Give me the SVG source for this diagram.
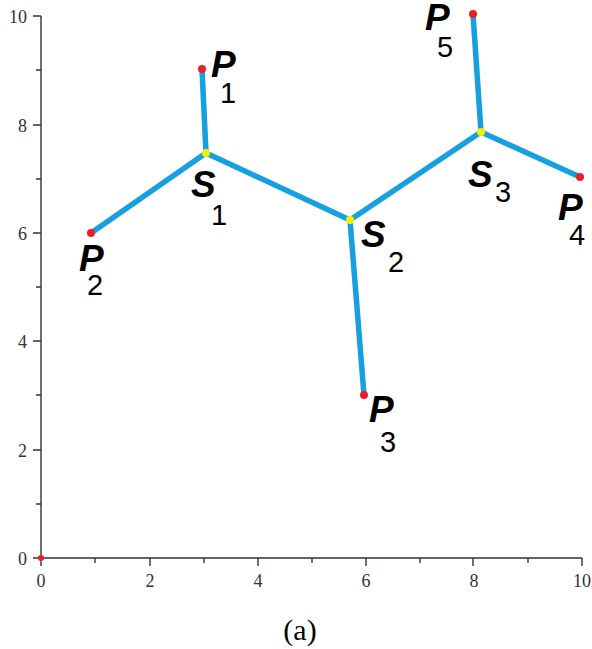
<svg xmlns="http://www.w3.org/2000/svg" width="592" height="649" viewBox="0 0 592 649">
<style>
.ax{stroke:#333;stroke-width:1.4;fill:none}
.tl{font-family:"Liberation Serif",serif;font-size:18px;fill:#333}
.edge{stroke:#17a0e0;stroke-width:5.5;stroke-linecap:butt;fill:none}
.p{fill:#e8202a}
.s{fill:#f2f200}
.L{font-family:"Liberation Sans",Arial,sans-serif;font-size:37px;font-weight:bold;font-style:italic;fill:#000}
.D{font-family:"Liberation Sans",Arial,sans-serif;font-size:29px;font-weight:normal;font-style:normal;fill:#000;text-anchor:middle}
</style>
<rect width="592" height="649" fill="#fff"/>
<g id="axes">
<path class="ax" d="M41,16V558H582"/>
<path class="ax" d="M33,16H41M36,70H41M33,125H41M36,179H41M33,233H41M36,287H41M33,341H41M36,395H41M33,450H41M36,504H41M33,558H41"/>
<path class="ax" d="M41,558V566M95,558V563M150,558V566M204,558V563M258,558V566M312,558V563M366,558V566M420,558V563M473,558V566M528,558V563M582,558V566"/>
<g class="tl" text-anchor="end">
<text x="27" y="23">10</text><text x="27" y="132">8</text><text x="27" y="240">6</text><text x="27" y="348">4</text><text x="27" y="457">2</text><text x="27" y="565">0</text>
</g>
<g class="tl" text-anchor="middle">
<text x="41" y="587">0</text><text x="150" y="587">2</text><text x="258" y="587">4</text><text x="366" y="587">6</text><text x="474" y="587">8</text><text x="582" y="587">10</text>
</g>
<circle cx="41" cy="558" r="3" class="p"/>
</g>
<g id="connectors">
<line class="edge" x1="202" y1="69" x2="206" y2="153"/>
<line class="edge" x1="91" y1="233" x2="206" y2="153"/>
<line class="edge" x1="206" y1="153" x2="350" y2="220"/>
<line class="edge" x1="350" y1="220" x2="364" y2="395"/>
<line class="edge" x1="350" y1="220" x2="481" y2="132"/>
<line class="edge" x1="473" y1="14" x2="481" y2="132"/>
<line class="edge" x1="481" y1="132" x2="580" y2="177"/>
</g>
<g id="P1"><circle cx="202" cy="69" r="4" class="p"/><text class="L"><tspan x="211" y="77">P</tspan><tspan class="D" x="228" y="103">1</tspan></text></g>
<g id="P2"><circle cx="91" cy="233" r="4" class="p"/><text class="L"><tspan x="79" y="271">P</tspan><tspan class="D" x="95" y="295">2</tspan></text></g>
<g id="P3"><circle cx="364" cy="395" r="4" class="p"/><text class="L"><tspan x="369" y="422">P</tspan><tspan class="D" x="388" y="452">3</tspan></text></g>
<g id="P4"><circle cx="580" cy="177" r="4" class="p"/><text class="L"><tspan x="558" y="220">P</tspan><tspan class="D" x="577" y="245">4</tspan></text></g>
<g id="P5"><circle cx="473" cy="14" r="4" class="p"/><text class="L"><tspan x="425" y="30">P</tspan><tspan class="D" x="445" y="57">5</tspan></text></g>
<g id="S1"><circle cx="206" cy="153" r="4" class="s"/><text class="L"><tspan x="191" y="197">S</tspan><tspan class="D" x="219" y="225">1</tspan></text></g>
<g id="S2"><circle cx="350" cy="220" r="4" class="s"/><text class="L"><tspan x="361" y="247">S</tspan><tspan class="D" x="396" y="272">2</tspan></text></g>
<g id="S3"><circle cx="481" cy="132" r="4" class="s"/><text class="L"><tspan x="468" y="187">S</tspan><tspan class="D" x="503" y="202">3</tspan></text></g>
<text x="300" y="640" text-anchor="middle" font-family="Liberation Serif,serif" font-size="30" fill="#000">(a)</text>
</svg>
